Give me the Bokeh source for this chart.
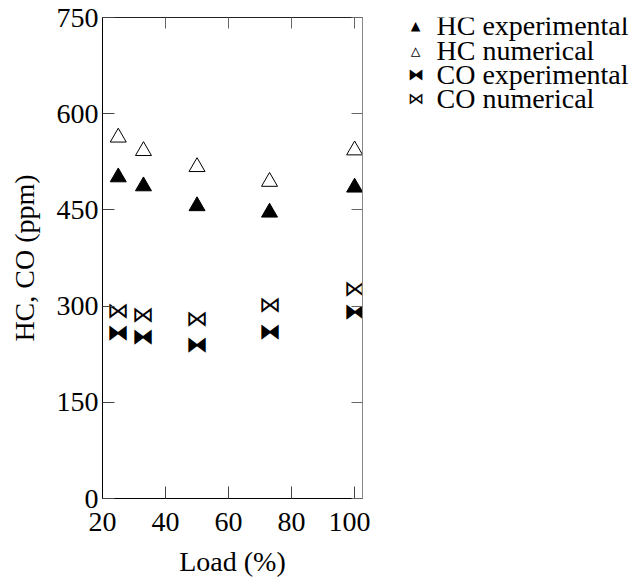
from bokeh.plotting import figure
from bokeh.layouts import row
from bokeh.models import (LinearAxis, Range1d, Label, FixedTicker, ColumnDataSource,
                          CustomLabelingPolicy)
from bokeh.core.properties import value
from bokeh.embed import file_html
from bokeh.resources import INLINE

# ---- data ----
load = [25, 33, 50, 73, 100]
hc_exp = [501, 487, 456, 446, 485]
hc_num = [563, 542, 517, 494, 543]
co_exp = [259, 253, 240, 260, 291]
co_num = [293, 287, 280, 302, 327]
x_ticks = [20, 40, 60, 80, 100]
y_ticks = [0, 150, 300, 450, 600, 750]
legend_labels = ["HC experimental", "HC numerical", "CO experimental", "CO numerical"]
legend_symbols = ["\u25B2", "\u25B3", "\u29D3", "\u22C8"]

FONT = "Liberation Serif"
FS = "28px"
SYMFONT = "DejaVu Sans Mono"

p = figure(width=370, height=580, output_backend="svg", toolbar_location=None,
           x_range=Range1d(20, 102.5), y_range=Range1d(0, 750),
           min_border_left=102, min_border_right=8, min_border_top=17,
           min_border_bottom=82)
p.outline_line_color = None
p.grid.visible = False

for ax, ticks in ((p.xaxis[0], x_ticks), (p.yaxis[0], y_ticks)):
    ax.ticker = FixedTicker(ticks=ticks)
    ax.minor_tick_line_color = None
    ax.major_tick_in = 12
    ax.major_tick_out = 0
    ax.major_tick_line_color = "#444444"
    ax.axis_line_color = "black"
    ax.major_label_text_font = FONT
    ax.major_label_text_font_size = FS
    ax.major_label_text_color = "black"
    ax.axis_label_text_font = FONT
    ax.axis_label_text_font_size = FS
    ax.axis_label_text_font_style = "normal"
    ax.axis_label_text_color = "black"

p.xaxis.axis_label = "Load (%)"
p.yaxis.axis_label = "HC, CO (ppm)"
p.xaxis.major_label_standoff = 14
p.yaxis.major_label_standoff = 4
p.xaxis.axis_label_standoff = 12
p.yaxis.axis_label_standoff = 14


def mirror_axis(ticks, line_color):
    return LinearAxis(ticker=FixedTicker(ticks=ticks), major_label_text_font_size="0px",
                      major_label_policy=CustomLabelingPolicy(code="return new Set()"),
                      major_label_standoff=0, major_tick_in=11, major_tick_out=0,
                      minor_tick_line_color=None, axis_line_color=line_color,
                      major_tick_line_color="#666666")


p.add_layout(mirror_axis(x_ticks, "#222222"), "above")
p.add_layout(mirror_axis(y_ticks, "#888888"), "right")

p.scatter(load, hc_exp, marker="triangle", size=16, fill_color="black", line_color="black")
p.scatter(load, hc_num, marker="triangle", size=16, fill_color="white", line_color="black",
          line_width=1)

src_ce = ColumnDataSource(dict(x=load, y=co_exp, t=[legend_symbols[2]] * len(load)))
src_cn = ColumnDataSource(dict(x=load, y=co_num, t=[legend_symbols[3]] * len(load)))
for src in (src_ce, src_cn):
    p.text(x="x", y="y", text="t", source=src, text_font=value(SYMFONT),
           text_font_size="22px", text_align="center", text_baseline="middle",
           text_color="black")

# ---- legend panel (its frame is aligned with the main frame: y from frame bottom) ----
leg = figure(width=259, height=580, output_backend="svg", toolbar_location=None,
             x_range=Range1d(0, 259), y_range=Range1d(0, 580),
             x_axis_location=None, y_axis_location=None,
             min_border=0, min_border_left=0, min_border_right=0,
             min_border_top=0, min_border_bottom=0)
leg.outline_line_color = None
leg.grid.visible = False

row_y = [473, 448, 424, 400]
for sym, lab, yy in zip(legend_symbols, legend_labels, row_y):
    leg.add_layout(Label(x=45, y=yy, x_units="screen", y_units="screen", text=sym,
                         text_font=SYMFONT, text_font_size="16px",
                         text_align="center", text_baseline="middle", text_color="black"))
    leg.add_layout(Label(x=66, y=yy, x_units="screen", y_units="screen", text=lab,
                         text_font=FONT, text_font_size=FS,
                         text_align="left", text_baseline="middle", text_color="black"))

layout = row(p, leg, spacing=0)
open("out.html", "w").write(file_html(layout, INLINE))
